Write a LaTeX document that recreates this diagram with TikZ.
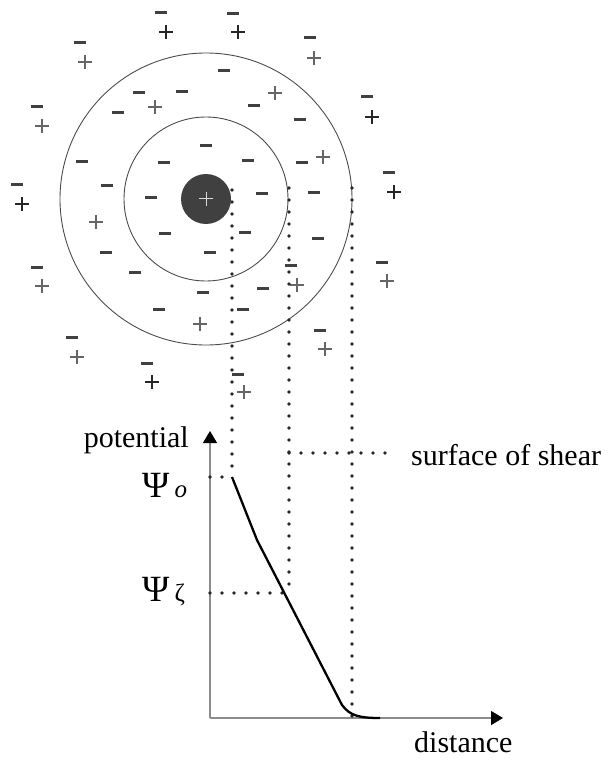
\documentclass[tikz,border=0pt]{standalone}
\usepackage{fontspec}
\setmainfont{Liberation Serif}
\usetikzlibrary{arrows.meta}
\begin{document}
\begin{tikzpicture}[x=1pt,y=-1pt,
  mbar/.style={line width=3pt,color=black!75},
  pbold/.style={line width=1.8pt,color=black!85},
  pthin/.style={line width=1.1pt,color=black!60},
  ring/.style={line width=0.9pt,color=black!70},
  dotline/.style={line width=3.6pt,line cap=round,dash pattern=on 0pt off 12pt,color=black!85},
  axis/.style={line width=1.1pt,color=black!45},
  tip/.style={-{Triangle[length=12pt,width=14pt,color=black]}},
  lbl/.style={inner sep=0pt,font=\fontsize{30}{36}\selectfont}]
\useasboundingbox (0,0) rectangle (608,759);
% rings and particle
\coordinate (c) at (206,199);
\draw[ring] (c) circle[radius=146];
\draw[ring] (c) circle[radius=82];
\fill[black!75] (c) circle[radius=25];
\draw[white!85!black,line width=1pt] (199,199) -- (213,199) (206,192) -- (206,206);
% minus charges
\foreach \x/\y in {161/13,233/14,80/43,310/38,224/71,139/93,182/92,367/97,254/106,118/113,37/107,300/120,
  206/146,164/163,248/161,302/163,82/162,107/186,17/185,151/198,262/194,389/173,314/193,165/233,245/232,
  318/238,106/252,210/252,37/267,135/272,291/265,382/262,203/292,263/288,159/309,243/309,320/330,72/337,
  147/363,238/374}
  \draw[mbar] (\x-6,\y) -- (\x+6,\y);
% plus charges, bold
\foreach \x/\y in {166/32,238/32,372/117,394/192,22/204,152/382}
  \draw[pbold] (\x-7,\y) -- (\x+7,\y) (\x,\y-7) -- (\x,\y+7);
% plus charges, thin
\foreach \x/\y in {85/62,314/58,42/126,155/107,275/93,323/157,96/222,42/286,77/357,200/324,244/392,297/285,387/281,325/349}
  \draw[pthin] (\x-7,\y) -- (\x+7,\y) (\x,\y-7) -- (\x,\y+7);
% axes
\coordinate (o) at (210,718);
\coordinate (ytop) at (210,431);
\coordinate (xend) at (503,718);
\draw[axis,tip] (o) -- (ytop);
\draw[axis,tip] (o) -- (xend);
% dotted guide lines
\coordinate (a1) at (232,190); \coordinate (a2) at (232,477);
\coordinate (b1) at (289,188); \coordinate (b2) at (289,593);
\coordinate (d1) at (352,188); \coordinate (d2) at (352,718);
\coordinate (s1) at (289,453); \coordinate (s2) at (394,453);
\coordinate (p0) at (210,477); \coordinate (z0) at (210,593);
\draw[dotline] (a1) -- (a2);
\draw[dotline] (b1) -- (b2);
\draw[dotline] (d1) -- (d2);
\draw[dotline] (s1) -- (s2);
\draw[dotline] (p0) -- (a2);
\draw[dotline] (z0) -- (b2);
% potential curve
\draw[line width=2.3pt,line join=round] (a2) -- (257,540) -- (342,705) .. controls (350,716) and (360,718) .. (380,718);
% labels
\node[lbl,anchor=base east] (pot) at (189,447) {potential};
\node[lbl,anchor=base west] (sos) at (411,465) {surface of shear};
\node[lbl,anchor=base west] (dist) at (414,752) {distance};
\node[inner sep=0pt,anchor=base west] (psio) at (142,497) {\fontsize{37}{40}\selectfont Ψ\hspace{5pt}\fontsize{25}{30}\selectfont\itshape o};
\node[inner sep=0pt,anchor=base west] (psiz) at (142,601) {\fontsize{37}{40}\selectfont Ψ\hspace{5pt}\fontsize{25}{30}\selectfont ζ};
\end{tikzpicture}
\end{document}
